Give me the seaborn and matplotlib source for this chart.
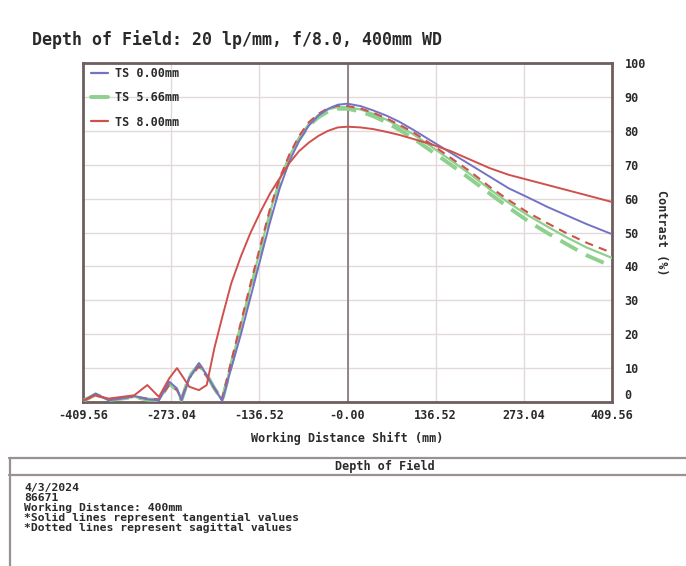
import matplotlib
matplotlib.use("Agg")
import matplotlib.pyplot as plt
import seaborn as sns
from matplotlib.lines import Line2D

# ---------------- data ----------------
x_shift = [-409.56, -390, -370, -350, -330, -310, -292, -276, -264, -257, -245, -230,
           -218, -206, -194, -180, -165, -150, -135, -120, -105, -90, -75, -60, -45,
           -30, -15, 0, 20, 40, 60, 80, 100, 130, 160, 190, 220, 250, 280, 310, 340,
           370, 409.56]

ts000_tan = [0.3, 2.5, 0.5, 1.0, 1.8, 0.8, 0.5, 6.0, 4.0, 0.5, 7.0, 11.5,
             8.0, 4.0, 0.3, 10, 20, 31, 42, 53, 63, 71, 77, 81.5, 84.5,
             86.5, 87.7, 88.0, 87.3, 86, 84.5, 82.7, 80.5, 77, 73.5, 70, 66.5, 63, 60.3, 57.5, 55,
             52.5, 49.5]

ts566_tan = [0.3, 2.2, 0.6, 1.0, 1.5, 0.7, 0.6, 5.5, 3.5, 0.6, 7.5, 11,
             8, 4, 0.5, 11.5, 22.5, 34, 45, 56, 65.5, 72.5, 78, 82, 84.7,
             86.3, 87, 87, 86.3, 85, 83.3, 81.3, 79.2, 75.3, 71.3, 67.2, 62.8, 58.7, 55, 51.7, 48.5,
             45.6, 42.5]

ts566_sag = [0.3, 2.2, 0.6, 1.0, 1.5, 0.7, 0.6, 5.5, 3.5, 0.6, 7.5, 11,
             8, 4, 0.5, 11, 22, 33, 44, 55, 64.5, 72, 77.5, 81.5, 84,
             85.7, 86.5, 86.5, 85.7, 84.3, 82.5, 80.3, 78, 74, 70, 65.8, 61.5, 57.3, 53.3, 49.8, 46.5,
             43.3, 40]

ts800_tan = [0.5, 2, 1, 1.5, 2, 5, 1.5, 7, 10, 8, 4.5, 3.5,
             5, 16, 25, 35, 43, 50, 56, 61.5, 66, 70.5, 74, 76.5, 78.5,
             80, 81, 81.2, 81, 80.5, 79.7, 78.8, 77.7, 76, 74, 71.5, 69, 67, 65.5, 64, 62.5,
             61, 59]

ts800_sag = [0.3, 2, 0.8, 1.2, 1.6, 1.0, 0.8, 5, 3.5, 1, 7, 10.5,
             7.5, 4, 1, 12, 23.5, 35, 46, 57, 66, 73, 78.5, 82.5, 85,
             86.7, 87.4, 87.3, 86.6, 85.3, 83.7, 81.8, 79.8, 76, 72, 68, 63.5, 59.5, 55.8, 52.7, 49.7,
             47, 44]

x_ticks = [-409.56, -273.04, -136.52, 0.0, 136.52, 273.04, 409.56]
x_tick_labels = ["-409.56", "-273.04", "-136.52", "-0.00", "136.52", "273.04", "409.56"]
y_ticks = [0, 10, 20, 30, 40, 50, 60, 70, 80, 90, 100]
legend_labels = ["TS 0.00mm", "TS 5.66mm", "TS 8.00mm"]
title_text = "Depth of Field: 20 lp/mm, f/8.0, 400mm WD"
panel_title = "Depth of Field"
notes = ["4/3/2024", "86671", "Working Distance: 400mm",
         "*Solid lines represent tangential values",
         "*Dotted lines represent sagittal values"]

# ---------------- style ----------------
sns.set_style("white")
plt.rcParams["font.family"] = ["DejaVu Sans Mono", "DejaVu Sans"]
plt.rcParams["font.weight"] = "bold"

BLUE = "#7472c4"
GREEN = "#8ed08e"
RED = "#d0504e"
FRAME = "#6e5e5e"
GRID = "#e2d9d9"
TXT = "#2a2a2a"

W, H = 686, 566
fig = plt.figure(figsize=(W / 100, H / 100), dpi=100)
ax = fig.add_axes([83 / W, 1 - 402 / H, (612 - 83) / W, (402 - 63) / H])

sns.lineplot(x=x_shift, y=ts566_tan, ax=ax, color=GREEN, lw=1.6, zorder=3)
sns.lineplot(x=x_shift, y=ts566_sag, ax=ax, color=GREEN, lw=2.8, zorder=3,
             linestyle=(0, (5, 2.5)))
sns.lineplot(x=x_shift, y=ts800_sag, ax=ax, color=RED, lw=1.5, zorder=4,
             linestyle=(0, (4, 3)))
sns.lineplot(x=x_shift, y=ts000_tan, ax=ax, color=BLUE, lw=1.4, zorder=5)
sns.lineplot(x=x_shift, y=ts800_tan, ax=ax, color=RED, lw=1.4, zorder=5)

ax.set_xlim(x_ticks[0], x_ticks[-1])
ax.set_ylim(0, 100)
ax.set_xticks(x_ticks)
ax.set_xticklabels(x_tick_labels)
ax.set_yticks(y_ticks)
ax.yaxis.tick_right()
ax.yaxis.set_label_position("right")
ax.tick_params(axis="both", length=0, labelsize=8.5, labelcolor=TXT, pad=5)
ax.tick_params(axis="y", pad=9)
for lab in ax.get_xticklabels() + ax.get_yticklabels():
    lab.set_fontweight("bold")
ax.get_yticklabels()[0].set_va("bottom")

ax.grid(True, color=GRID, lw=1.0, zorder=0)
ax.set_axisbelow(True)
ax.axvline(0, color="#8a7e7e", lw=1.3, zorder=2)
for s in ax.spines.values():
    s.set_color(FRAME)
    s.set_linewidth(2)

ax.set_xlabel("Working Distance Shift (mm)", fontsize=8.5, fontweight="bold",
              color=TXT, labelpad=7)
ax.set_ylabel("Contrast (%)", fontsize=8.5, fontweight="bold", color=TXT,
              rotation=270, labelpad=16)

fig.text(32 / W, 1 - 40 / H, title_text, fontsize=12, fontweight="bold",
         color=TXT, ha="left", va="center")

handles = [Line2D([], [], color=BLUE, lw=1.6),
           Line2D([], [], color=GREEN, lw=2.8),
           Line2D([], [], color=RED, lw=1.6)]
leg = ax.legend(handles, legend_labels, loc="upper left", bbox_to_anchor=(0.0, 1.012),
                frameon=False, fontsize=8.5, handlelength=1.4, handletextpad=0.6,
                labelspacing=0.95, borderaxespad=0.3)
for t in leg.get_texts():
    t.set_fontweight("bold")
    t.set_color(TXT)

# ---------------- bottom info panel ----------------
def fx(px):
    return px / W

def fy(py):
    return 1 - py / H

LINEC = "#9a9090"
fig.add_artist(Line2D([fx(9), fx(686)], [fy(458), fy(458)], color=LINEC, lw=1.6))
fig.add_artist(Line2D([fx(9), fx(686)], [fy(475), fy(475)], color=LINEC, lw=1.6))
fig.add_artist(Line2D([fx(9.5), fx(9.5)], [fy(458), fy(566)], color=LINEC, lw=1.6))
fig.text(fx(385), fy(466.5), panel_title, fontsize=8.5, fontweight="bold",
         color=TXT, ha="center", va="center")
for i, line in enumerate(notes):
    fig.text(fx(24), fy(488 + i * 10), line, fontsize=8.2, fontweight="bold",
             color=TXT, ha="left", va="center")

fig.savefig("out.png", dpi=100, facecolor="white")
